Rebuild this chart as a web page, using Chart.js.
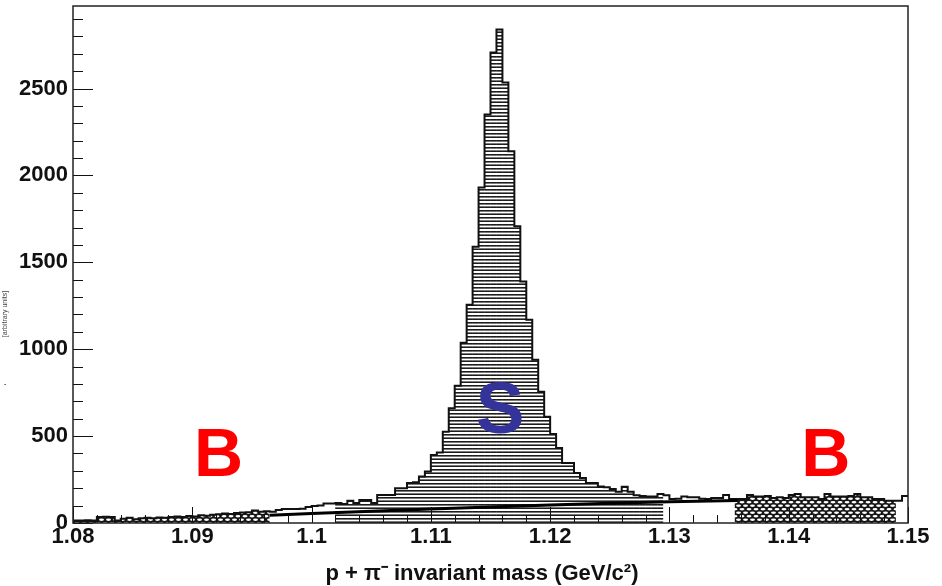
<!DOCTYPE html>
<html>
<head>
<meta charset="utf-8">
<script src="https://cdn.jsdelivr.net/npm/chart.js@4.4.1/dist/chart.umd.min.js"></script>
<style>
  html, body { margin: 0; padding: 0; background: #fff; }
</style>
</head>
<body>
<canvas id="massChart" width="942" height="586"></canvas>
<script>
// p + pi- invariant mass, 140 bins of 0.5 MeV/c2 from 1.08 to 1.15
const binLow = 1.08;
const binWidth = 0.0005;
const counts = [
  15, 14, 16, 15, 35, 36, 34, 14, 25, 30,
  22, 28, 30, 28, 32, 30, 35, 38, 35, 40,
  38, 45, 42, 48, 50, 55, 52, 58, 60, 62,
  72, 65, 68, 65, 75, 80, 80, 80, 82, 92,
  98, 100, 112, 112, 115, 110, 128, 115, 132, 132,
  115, 161, 161, 161, 200, 200, 230, 235, 267, 296,
  392, 405, 525, 660, 790, 1037, 1256, 1590, 1930, 2350,
  2707, 2840, 2535, 2139, 1707, 1390, 1169, 939, 755, 612,
  512, 432, 345, 345, 288, 259, 230, 230, 210, 205,
  195, 180, 209, 180, 160, 155, 152, 152, 167, 160,
  138, 140, 152, 148, 148, 140, 138, 144, 144, 161,
  138, 138, 138, 161, 152, 152, 155, 144, 148, 144,
  161, 167, 148, 148, 148, 138, 167, 152, 152, 152,
  155, 167, 148, 148, 138, 138, 128, 128, 128, 155
];

// mass windows
const leftSideband = [1.08, 1.0965];
const rightSideband = [1.1355, 1.149];
const signalWindow = [1.102, 1.1295];

// background fit under the peak
const bgMass = [1.0965, 1.1, 1.105, 1.11, 1.115, 1.12, 1.125, 1.13, 1.1357];
const bgCounts = [45, 55, 68, 80, 92, 103, 113, 122, 130];

const xTicks = [1.08, 1.09, 1.1, 1.11, 1.12, 1.13, 1.14, 1.15];
const yTicks = [0, 500, 1000, 1500, 2000, 2500];
const xMin = 1.08, xMax = 1.15;
const yMin = 0, yMax = 2975;

const ctx = document.getElementById('massChart').getContext('2d');
const FONT = "'Liberation Sans', Arial, Helvetica, sans-serif";

// horizontal line hatch for the signal window
const hatchTile = document.createElement('canvas');
hatchTile.width = 8; hatchTile.height = 7;
(function () {
  const g = hatchTile.getContext('2d');
  g.fillStyle = '#fff'; g.fillRect(0, 0, 8, 7);
  g.fillStyle = '#1c1c1c'; g.fillRect(0, 0, 8, 1); g.fillRect(0, 4, 8, 1);
  g.fillStyle = '#777'; g.fillRect(0, 1, 8, 1); g.fillRect(0, 3, 8, 1);
})();
const hatch = ctx.createPattern(hatchTile, 'repeat');

// honeycomb for the sidebands
const honeyTile = document.createElement('canvas');
honeyTile.width = 7; honeyTile.height = 7;
(function () {
  const g = honeyTile.getContext('2d');
  g.fillStyle = '#151515'; g.fillRect(0, 0, 7, 7);
  g.fillStyle = '#fff';
  [[3.5, 1.75], [0, 5.25], [7, 5.25]].forEach(([cx, cy]) => {
    g.beginPath(); g.ellipse(cx, cy, 2.5, 1.15, 0, 0, Math.PI * 2); g.fill();
  });
})();
const honey = ctx.createPattern(honeyTile, 'repeat');

const inside = (m, w) => m > w[0] && m < w[1];
const binFill = counts.map((c, i) => {
  const m = binLow + (i + 0.5) * binWidth;
  if (inside(m, leftSideband) || inside(m, rightSideband)) return honey;
  if (inside(m, signalWindow)) return hatch;
  return '#ffffff';
});

const barData = counts.map((c, i) => ({ x: binLow + (i + 0.5) * binWidth, y: c }));
const outline = counts.map((c, i) => ({ x: binLow + i * binWidth, y: c }));
outline.push({ x: binLow + counts.length * binWidth, y: counts[counts.length - 1] });
const bgLine = bgMass.map((m, i) => ({ x: m, y: bgCounts[i] }));

const letters = [
  { text: 'B', x: 1.0922, y: 271, color: '#ff0000', size: 68 },
  { text: 'S', x: 1.1158, y: 518, color: '#333399', size: 73 },
  { text: 'B', x: 1.1431, y: 271, color: '#ff0000', size: 68 }
];

const decorations = {
  id: 'decorations',
  afterDatasetsDraw(chart) {
    const { ctx, chartArea: a, scales: { x, y } } = chart;
    ctx.save();
    // ticks drawn inward
    ctx.strokeStyle = '#111';
    ctx.lineWidth = 1;
    for (let k = 0; k <= 35; k++) {
      const px = Math.round(x.getPixelForValue(xMin + k * 0.002)) + 0.5;
      const len = k % 5 === 0 ? 16 : 8;
      ctx.beginPath(); ctx.moveTo(px, a.bottom); ctx.lineTo(px, a.bottom - len); ctx.stroke();
    }
    for (let v = 0; v <= yMax; v += 100) {
      const py = Math.round(y.getPixelForValue(v)) + 0.5;
      const len = v % 500 === 0 ? 20 : 10;
      ctx.beginPath(); ctx.moveTo(a.left, py); ctx.lineTo(a.left + len, py); ctx.stroke();
    }
    // frame
    ctx.strokeStyle = '#222';
    ctx.lineWidth = 1.5;
    ctx.strokeRect(a.left, a.top, a.right - a.left, a.bottom - a.top);
    // S / B labels
    ctx.textAlign = 'center';
    ctx.textBaseline = 'alphabetic';
    letters.forEach(l => {
      ctx.font = `bold ${l.size}px ${FONT}`;
      ctx.fillStyle = l.color;
      ctx.fillText(l.text, x.getPixelForValue(l.x), y.getPixelForValue(l.y));
    });
    // axis title
    ctx.fillStyle = '#111';
    ctx.font = `bold 22px ${FONT}`;
    ctx.textBaseline = 'middle';
    ctx.fillText('p + \u03c0\u207b invariant mass (GeV/c\u00b2)', 482, 574);
    // y title, mostly cut off at the edge
    ctx.save();
    ctx.translate(5, 314);
    ctx.rotate(-Math.PI / 2);
    ctx.font = `7px ${FONT}`;
    ctx.fillStyle = '#444';
    ctx.fillText('[arbitrary units]', 0, 0);
    ctx.restore();
    ctx.font = `bold 8px ${FONT}`;
    ctx.fillText('.', 5, 383);
    ctx.restore();
  }
};

new Chart(ctx, {
  type: 'bar',
  data: {
    datasets: [
      {
        type: 'line',
        data: bgLine,
        borderColor: '#000',
        borderWidth: 3,
        pointRadius: 0,
        fill: false,
        order: 1
      },
      {
        type: 'line',
        data: outline,
        stepped: 'before',
        borderColor: '#111',
        borderWidth: 2,
        pointRadius: 0,
        fill: false,
        order: 2
      },
      {
        data: barData,
        backgroundColor: binFill,
        borderWidth: 0,
        barPercentage: 1.08,
        categoryPercentage: 1,
        order: 3
      }
    ]
  },
  options: {
    responsive: false,
    devicePixelRatio: 1,
    animation: false,
    layout: { padding: { top: 6, right: 34, left: 0, bottom: 0 } },
    plugins: { legend: { display: false }, tooltip: { enabled: false } },
    scales: {
      x: {
        type: 'linear',
        offset: false,
        min: xMin,
        max: xMax,
        afterBuildTicks: s => { s.ticks = xTicks.map(v => ({ value: v })); },
        afterFit: s => { s.height = 63; s.paddingLeft = 0; s.paddingRight = 0; },
        grid: { display: false, drawTicks: false },
        border: { display: false },
        ticks: {
          autoSkip: false,
          maxRotation: 0,
          padding: 1,
          color: '#111',
          font: { family: FONT, size: 22, weight: 'bold' },
          callback: v => String(Number(v.toFixed(2)))
        }
      },
      y: {
        min: yMin,
        max: yMax,
        afterBuildTicks: s => { s.ticks = yTicks.map(v => ({ value: v })); },
        afterFit: s => { s.width = 73; s.paddingTop = 0; s.paddingBottom = 0; },
        grid: { display: false, drawTicks: false },
        border: { display: false },
        ticks: {
          autoSkip: false,
          padding: 5,
          color: '#111',
          font: { family: FONT, size: 22, weight: 'bold' },
          callback: v => String(v)
        }
      }
    }
  },
  plugins: [decorations]
});
</script>
</body>
</html>
